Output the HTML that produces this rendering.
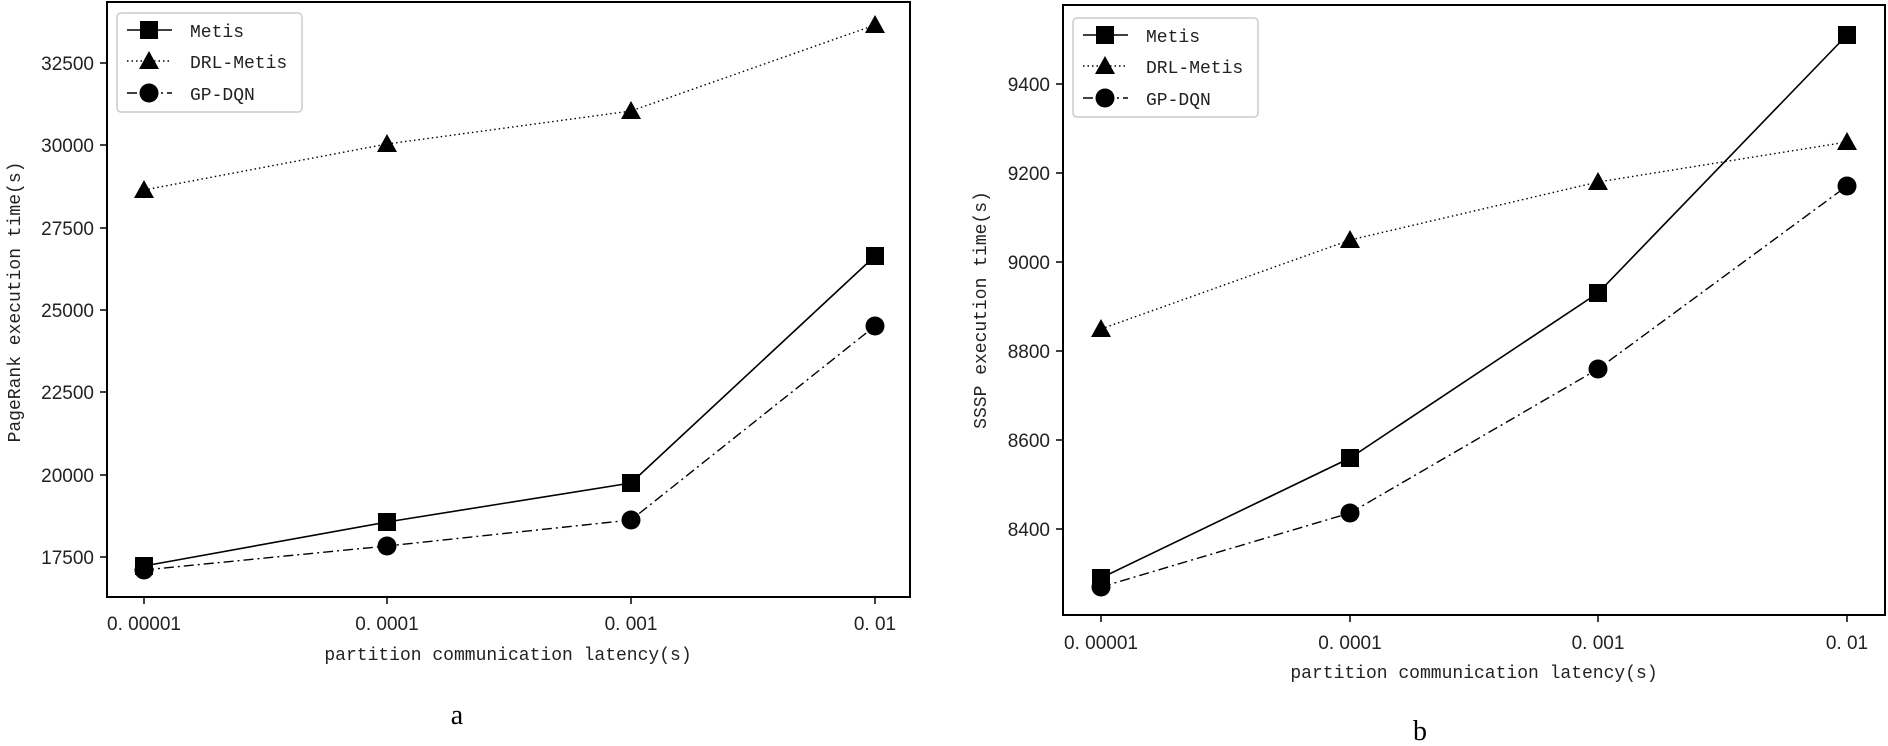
<!DOCTYPE html>
<html><head><meta charset="utf-8"><style>html,body{margin:0;padding:0;background:#fff}svg{display:block}</style></head>
<body>
<svg width="1888" height="746" viewBox="0 0 1888 746" xmlns="http://www.w3.org/2000/svg" font-family="'Liberation Sans', sans-serif">
<defs>
<g id="sq"><rect x="-9" y="-9" width="18" height="18" fill="#000"/></g>
<g id="tri"><polygon points="0,-10 10,8 -10,8" fill="#000"/></g>
<g id="cir"><circle r="9.5" fill="#000"/></g>
</defs>
<!-- LEFT PLOT -->
<rect x="107" y="2" width="803" height="595" fill="none" stroke="#000" stroke-width="2"/>
<g font-size="19" text-anchor="end" fill="#222">
<g stroke="#000" stroke-width="1.5">
<line x1="100" y1="557" x2="107" y2="557"/><line x1="100" y1="475" x2="107" y2="475"/><line x1="100" y1="392" x2="107" y2="392"/><line x1="100" y1="310" x2="107" y2="310"/><line x1="100" y1="228" x2="107" y2="228"/><line x1="100" y1="145" x2="107" y2="145"/><line x1="100" y1="63" x2="107" y2="63"/>
</g>
<text x="94" y="564">17500</text><text x="94" y="482">20000</text><text x="94" y="399">22500</text><text x="94" y="317">25000</text><text x="94" y="235">27500</text><text x="94" y="152">30000</text><text x="94" y="70">32500</text>
</g>
<g stroke="#000" stroke-width="1.5"><line x1="144" y1="597" x2="144" y2="604"/><line x1="387" y1="597" x2="387" y2="604"/><line x1="631" y1="597" x2="631" y2="604"/><line x1="875" y1="597" x2="875" y2="604"/></g>
<g font-size="19" text-anchor="middle" fill="#222"><text x="144" y="630">0. 00001</text><text x="387" y="630">0. 0001</text><text x="631" y="630">0. 001</text><text x="875" y="630">0. 01</text></g>
<text x="508" y="660" font-family="'Liberation Mono', monospace" font-size="18" text-anchor="middle" fill="#222">partition communication latency(s)</text>
<text transform="translate(20,302) rotate(-90)" font-family="'Liberation Mono', monospace" font-size="18" text-anchor="middle" fill="#222">PageRank execution time(s)</text>
<polyline points="144,566 387,522 631,483 875,256" fill="none" stroke="#000" stroke-width="1.6"/>
<polyline points="144,190 387,144 631,111 875,25" fill="none" stroke="#000" stroke-width="1.4" stroke-dasharray="1.5,3"/>
<polyline points="144,570 387,546 631,520 875,326" fill="none" stroke="#000" stroke-width="1.4" stroke-dasharray="10,4,2,4"/>
<use href="#sq" x="144" y="566"/><use href="#sq" x="387" y="522"/><use href="#sq" x="631" y="483"/><use href="#sq" x="875" y="256"/>
<use href="#tri" x="144" y="190"/><use href="#tri" x="387" y="144"/><use href="#tri" x="631" y="111"/><use href="#tri" x="875" y="25"/>
<use href="#cir" x="144" y="570"/><use href="#cir" x="387" y="546"/><use href="#cir" x="631" y="520"/><use href="#cir" x="875" y="326"/>
<rect x="117" y="13" width="185" height="99" rx="4" fill="#fff" stroke="#ccc" stroke-width="1.5"/>
<g font-family="'Liberation Mono', monospace" font-size="18" fill="#222">
<line x1="127" y1="30" x2="172" y2="30" stroke="#000" stroke-width="1.6"/><use href="#sq" x="149" y="30"/><text x="190" y="37">Metis</text>
<line x1="127" y1="61" x2="172" y2="61" stroke="#000" stroke-width="1.4" stroke-dasharray="1.5,3"/><use href="#tri" x="149" y="61"/><text x="190" y="68">DRL-Metis</text>
<line x1="127" y1="93" x2="172" y2="93" stroke="#000" stroke-width="1.4" stroke-dasharray="10,4,2,4"/><use href="#cir" x="149" y="93"/><text x="190" y="100">GP-DQN</text>
</g>
<text x="457" y="724" font-family="'Liberation Serif', serif" font-size="28" text-anchor="middle">a</text>

<!-- RIGHT PLOT -->
<rect x="1063" y="5" width="822" height="610" fill="none" stroke="#000" stroke-width="2"/>
<g font-size="19" text-anchor="end" fill="#222">
<g stroke="#000" stroke-width="1.5">
<line x1="1056" y1="529" x2="1063" y2="529"/><line x1="1056" y1="440" x2="1063" y2="440"/><line x1="1056" y1="351" x2="1063" y2="351"/><line x1="1056" y1="262" x2="1063" y2="262"/><line x1="1056" y1="173" x2="1063" y2="173"/><line x1="1056" y1="84" x2="1063" y2="84"/>
</g>
<text x="1050" y="536">8400</text><text x="1050" y="447">8600</text><text x="1050" y="358">8800</text><text x="1050" y="269">9000</text><text x="1050" y="180">9200</text><text x="1050" y="91">9400</text>
</g>
<g stroke="#000" stroke-width="1.5"><line x1="1101" y1="615" x2="1101" y2="622"/><line x1="1350" y1="615" x2="1350" y2="622"/><line x1="1598" y1="615" x2="1598" y2="622"/><line x1="1847" y1="615" x2="1847" y2="622"/></g>
<g font-size="19" text-anchor="middle" fill="#222"><text x="1101" y="649">0. 00001</text><text x="1350" y="649">0. 0001</text><text x="1598" y="649">0. 001</text><text x="1847" y="649">0. 01</text></g>
<text x="1474" y="678" font-family="'Liberation Mono', monospace" font-size="18" text-anchor="middle" fill="#222">partition communication latency(s)</text>
<text transform="translate(986,310) rotate(-90)" font-family="'Liberation Mono', monospace" font-size="18" text-anchor="middle" fill="#222">SSSP execution time(s)</text>
<polyline points="1101,578 1350,458 1598,293 1847,35" fill="none" stroke="#000" stroke-width="1.6"/>
<polyline points="1101,329 1350,240 1598,182 1847,142" fill="none" stroke="#000" stroke-width="1.4" stroke-dasharray="1.5,3"/>
<polyline points="1101,587 1350,513 1598,369 1847,186" fill="none" stroke="#000" stroke-width="1.4" stroke-dasharray="10,4,2,4"/>
<use href="#sq" x="1101" y="578"/><use href="#sq" x="1350" y="458"/><use href="#sq" x="1598" y="293"/><use href="#sq" x="1847" y="35"/>
<use href="#tri" x="1101" y="329"/><use href="#tri" x="1350" y="240"/><use href="#tri" x="1598" y="182"/><use href="#tri" x="1847" y="142"/>
<use href="#cir" x="1101" y="587"/><use href="#cir" x="1350" y="513"/><use href="#cir" x="1598" y="369"/><use href="#cir" x="1847" y="186"/>
<rect x="1073" y="18" width="185" height="99" rx="4" fill="#fff" stroke="#ccc" stroke-width="1.5"/>
<g font-family="'Liberation Mono', monospace" font-size="18" fill="#222">
<line x1="1083" y1="35" x2="1128" y2="35" stroke="#000" stroke-width="1.6"/><use href="#sq" x="1105" y="35"/><text x="1146" y="42">Metis</text>
<line x1="1083" y1="66" x2="1128" y2="66" stroke="#000" stroke-width="1.4" stroke-dasharray="1.5,3"/><use href="#tri" x="1105" y="66"/><text x="1146" y="73">DRL-Metis</text>
<line x1="1083" y1="98" x2="1128" y2="98" stroke="#000" stroke-width="1.4" stroke-dasharray="10,4,2,4"/><use href="#cir" x="1105" y="98"/><text x="1146" y="105">GP-DQN</text>
</g>
<text x="1420" y="740" font-family="'Liberation Serif', serif" font-size="28" text-anchor="middle">b</text>
</svg>
</body></html>
